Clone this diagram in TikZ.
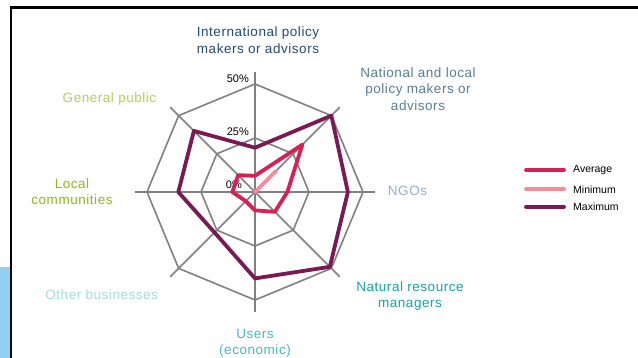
\documentclass[tikz,border=0pt]{standalone}
\usepackage{fontspec}
\setmainfont{Liberation Sans}
\newfontfamily\axisfont[LetterSpace=4]{Liberation Sans}
\definecolor{gridgrey}{RGB}{128,128,128}
\definecolor{avgred}{RGB}{214,32,86}
\definecolor{minpink}{RGB}{246,140,150}
\definecolor{maxplum}{RGB}{122,26,82}
\definecolor{panelblue}{RGB}{145,208,242}
\definecolor{intlblue}{RGB}{35,75,115}
\definecolor{natblue}{RGB}{85,125,155}
\definecolor{ngogrey}{RGB}{150,175,200}
\definecolor{nrmteal}{RGB}{20,165,165}
\definecolor{userteal}{RGB}{70,185,195}
\definecolor{bizcyan}{RGB}{160,220,225}
\definecolor{localgreen}{RGB}{140,185,20}
\definecolor{publicgreen}{RGB}{175,210,90}
\begin{document}
\begin{tikzpicture}[x=1pt, y=1pt,
       every node/.style={inner sep=0pt, align=center,
             font=\axisfont\fontsize{13.5}{16.5}\selectfont},
       grid/.style={draw=gridgrey, line width=1.6pt},
       series/.style={line width=3.8pt, line join=round, line cap=round},
       pct/.style={anchor=east, font=\fontsize{11}{13}\selectfont},
       legend/.style={anchor=west, font=\fontsize{10.5}{12}\selectfont}]
\useasboundingbox (-255,-166) rectangle (383,192);
\fill[panelblue] (-255,-166) rectangle (-245,-75.3);
\draw[line width=2.5pt] (-244,-167) -- (-244,184.5) -- (384,184.5);

% grid: spokes and two rings
\foreach \i in {0,...,7}
    \draw[grid] (0,0) -- (90-45*\i:120);
\foreach \r in {54,108}
    \draw[grid] (90:\r) \foreach \i in {1,...,7}{ -- (90-45*\i:\r)} -- cycle;

\node[pct] (p0) at (-13,7) {0\%};
\node[pct] (p25) at (-6,60.3) {25\%};
\node[pct] (p50) at (-6,113.7) {50\%};

% series (values in percent, clockwise from top)
\foreach \v [count=\i from 0] in {7.5,31,15,13,8.5,6,10.5,11}
    \coordinate (avg\i) at (90-45*\i:2.16*\v);
\foreach \v [count=\i from 0] in {20.5,50,43,49,40,26.5,35.5,40}
    \coordinate (max\i) at (90-45*\i:2.16*\v);
\coordinate (min0) at (0,0);
\coordinate (min1) at (45:2.16*14);

\draw[series, avgred] (avg0) \foreach \i in {1,...,7}{ -- (avg\i)} -- cycle;
\draw[series, minpink] (min0) -- (min1);
\draw[series, maxplum] (max0) \foreach \i in {1,...,7}{ -- (max\i)} -- cycle;

% axis labels
\node[text=intlblue] (intl) at (3,152) {International policy\\makers or advisors};
\node[text=natblue] (natl) at (163,103) {National and local\\policy makers or\\advisors};
\node[text=ngogrey] (ngo) at (152.5,1) {NGOs};
\node[text=nrmteal] (nrm) at (155,-104) {Natural resource\\managers};
\node[text=userteal] (users) at (0,-151.5) {Users\\(economic)};
\node[text=bizcyan] (biz) at (-153.3,-102.3) {Other businesses};
\node[text=localgreen] (local) at (-183,0.5) {Local\\communities};
\node[text=publicgreen] (public) at (-145.5,93) {General public};

% legend
\foreach \name/\col/\y in {Average/avgred/22, Minimum/minpink/2.7, Maximum/maxplum/-14.7}{
    \coordinate (\name a) at (271,\y);
    \coordinate (\name b) at (309,\y);
    \draw[series, \col] (\name a) -- (\name b);
    \node[legend] (\name txt) at (318,\y) {\name};
}
\end{tikzpicture}
\end{document}
